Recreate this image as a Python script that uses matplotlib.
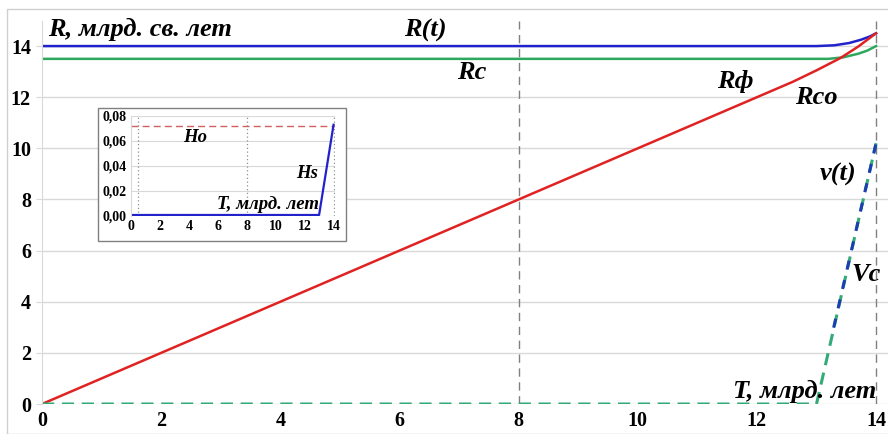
import matplotlib
matplotlib.use("Agg")
import matplotlib.pyplot as plt
from matplotlib.patches import Rectangle
from matplotlib.ticker import FuncFormatter

# main chart data
t_R = [0, 13.0, 13.3, 13.55, 13.75, 13.9, 14.0]
R_t = [14, 14, 14.03, 14.12, 14.25, 14.38, 14.5]
t_Rc = [0, 13.2, 13.45, 13.7, 13.85, 14.0]
Rc = [13.5, 13.5, 13.56, 13.7, 13.82, 14.0]
t_Rf = [0, 8, 12.6, 13.0, 13.4, 13.7, 14.0]
Rf = [0, 8, 12.6, 13.05, 13.53, 13.98, 14.5]
t_v = [0, 13.0, 14.0]
v_green = [0, 0, 10.2]
t_vb = [13.25, 14.0]
v_blue = [2.6, 10.2]

# inset data
t_H = [0, 13.0, 14.0]
Hs = [0.0008, 0.0008, 0.073]
Ho = 0.072

xticks = [0, 2, 4, 6, 8, 10, 12, 14]
yticks = [0, 2, 4, 6, 8, 10, 12, 14]

blue = "#2222cc"
green = "#2ea85c"
red = "#e02222"
serif = ["Liberation Serif", "DejaVu Serif"]

fig = plt.figure(figsize=(8.88, 4.34), dpi=100)
fig.patches.append(Rectangle((7 / 888, 0), 1, 1 - 9 / 434, transform=fig.transFigure,
                             fill=False, edgecolor="#d0d0d0", lw=1))
ax = fig.add_axes([42 / 888, 30 / 434, 1 - 42 / 888, (404 - 20.5) / 434])
ax.set_xlim(0, 14.2)
ax.set_ylim(0, 15)
ax.set_xticks(xticks)
ax.set_yticks(yticks)
ax.grid(axis="y", color="#d9d9d9", lw=1)
ax.set_axisbelow(True)
for s in ["top", "right", "bottom"]:
    ax.spines[s].set_visible(False)
ax.spines["left"].set_color("#d9d9d9")
ax.tick_params(axis="both", length=0, pad=5)
ax.tick_params(axis="y", length=4, color="#d9d9d9", pad=4)
for lab in ax.get_xticklabels() + ax.get_yticklabels():
    lab.set_fontfamily(serif)
    lab.set_fontweight("bold")
    lab.set_fontsize(14.5)

ax.axvline(8, color="#808080", ls=(0, (6, 4)), lw=1)
ax.axvline(14, color="#808080", ls=(0, (6, 4)), lw=1)

ax.plot(t_R, R_t, color=blue, lw=1.8)
ax.plot(t_Rc, Rc, color=green, lw=1.8)
ax.plot(t_Rf, Rf, color=red, lw=1.8)
ax.plot(t_v, v_green, color="#33aa77", lw=2.2, ls=(0, (4, 2.5)))
ax.plot(t_vb, v_blue, color="#1a3fb0", lw=2.2, ls=(3.2, (3, 3.5)))

tk = dict(family=serif, fontweight="bold", fontstyle="italic", fontsize=19)
ax.text(0.1, 14.2, "R, млрд. св. лет", ha="left", va="bottom", **tk)
ax.text(6.43, 14.63, "R(t)", ha="center", va="center", **tk)
ax.text(7.22, 12.95, "Rc", ha="center", va="center", **tk)
ax.text(11.63, 12.6, "Rф", ha="center", va="center", **tk)
ax.text(13.0, 12.0, "Rco", ha="center", va="center", **tk)
ax.text(13.36, 8.96, "v(t)", ha="center", va="center", **tk)
ax.text(13.83, 5.05, "Vc", ha="center", va="center", **tk)
ax.text(12.8, 0.47, "T, млрд. лет", ha="center", va="center", **tk)

# inset
fig.patches.append(Rectangle((98 / 888, (434 - 241) / 434), 248 / 888, 133 / 434,
                             transform=fig.transFigure, facecolor="white",
                             edgecolor="#808080", lw=1, zorder=2))
ins = fig.add_axes([131 / 888, 218 / 434, 204 / 888, 100 / 434])
ins.set_zorder(5)
ins.patch.set_alpha(0)
ins.set_xlim(0, 14.1)
ins.set_ylim(0, 0.08)
ins.set_xticks(xticks)
ins.set_yticks([0, 0.02, 0.04, 0.06, 0.08])
ins.yaxis.set_major_formatter(FuncFormatter(lambda v, p: f"{v:.2f}".replace(".", ",")))
ins.grid(axis="y", color="#d9d9d9", lw=0.8)
for s in ["top", "right", "bottom"]:
    ins.spines[s].set_visible(False)
ins.spines["left"].set_color("#d9d9d9")
ins.tick_params(axis="both", length=0, pad=3)
for lab in ins.get_xticklabels() + ins.get_yticklabels():
    lab.set_fontfamily(serif)
    lab.set_fontweight("bold")
    lab.set_fontsize(10)
for xv in [0.5, 8, 14]:
    ins.axvline(xv, color="#909090", ls=(0, (1, 2)), lw=0.9)
ins.axhline(Ho, color="#d06060", ls=(0, (5, 3)), lw=1)
ins.plot(t_H, Hs, color=blue, lw=1.6)
ik = dict(family=serif, fontweight="bold", fontstyle="italic", fontsize=13.5)
ins.text(4.43, 0.0624, "Ho", ha="center", va="center", **ik)
ins.text(12.2, 0.0344, "Hs", ha="center", va="center", **ik)
ins.text(9.5, 0.0088, "T, млрд. лет", ha="center", va="center", **ik)

fig.savefig("out.png", dpi=100)
